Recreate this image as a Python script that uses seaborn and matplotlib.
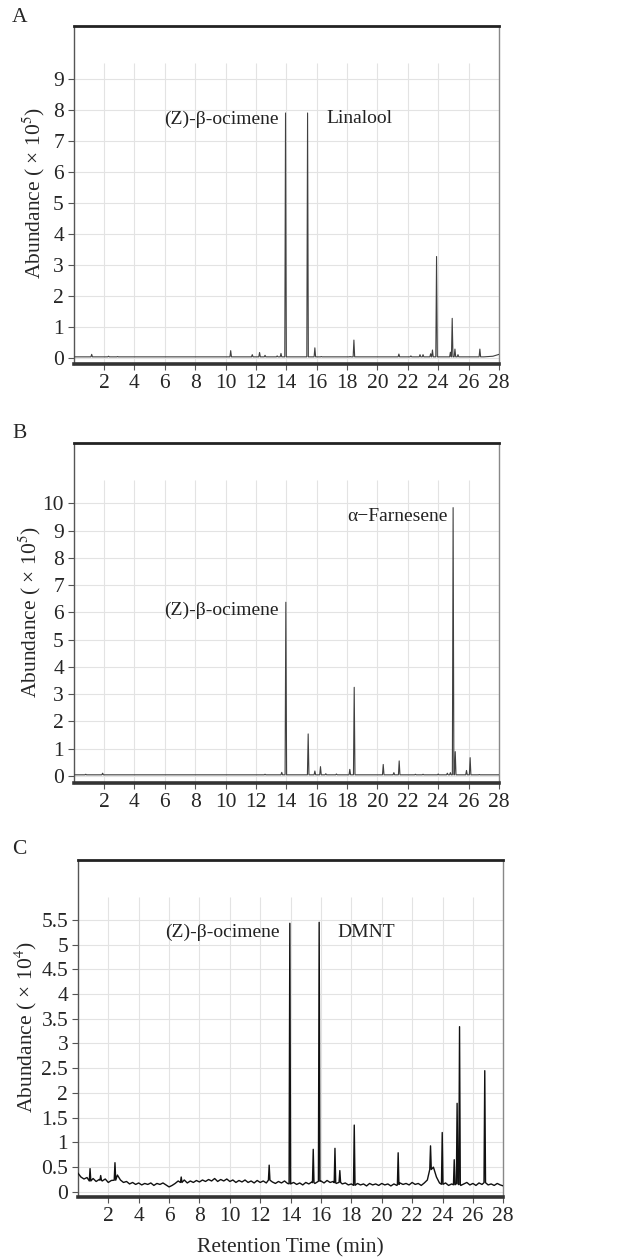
import numpy as np
import pandas as pd
import matplotlib
matplotlib.use("Agg")
import matplotlib.pyplot as plt
import seaborn as sns

# ---------------- data ----------------
# Panel A (x10^5)
a_peak_t = [1.19, 2.3, 2.9, 10.34, 11.76, 12.24, 12.6, 13.4, 13.65, 13.95, 15.40, 15.88, 16.3,
            18.2, 18.45, 21.41, 22.2, 22.8, 23.0, 23.5, 23.62, 23.89, 24.8, 24.92, 25.1, 25.3, 26.74]
a_peak_h = [0.13, 0.07, 0.06, 0.25, 0.12, 0.19, 0.10, 0.08, 0.16, 7.9, 7.9, 0.34, 0.06,
            0.06, 0.59, 0.14, 0.08, 0.12, 0.12, 0.15, 0.27, 3.28, 0.20, 1.29, 0.30, 0.12, 0.30]
a_base_t = [0.0, 5.0, 10.0, 15.0, 20.0, 25.0, 27.0, 27.6, 28.0]
a_base_v = [0.05, 0.05, 0.05, 0.05, 0.05, 0.05, 0.05, 0.07, 0.13]

# Panel B (x10^5)
b_peak_t = [0.8, 1.91, 12.6, 13.7, 13.97, 15.44, 15.88, 16.25, 16.6, 17.3, 18.18, 18.47,
            20.38, 21.08, 21.43, 22.5, 23.0, 24.0, 24.6, 24.8, 24.98, 25.12, 25.86, 26.10, 26.7]
b_peak_h = [0.06, 0.10, 0.06, 0.13, 6.37, 1.54, 0.18, 0.34, 0.08, 0.07, 0.24, 3.25,
            0.42, 0.12, 0.55, 0.06, 0.06, 0.07, 0.10, 0.12, 9.84, 0.89, 0.20, 0.67, 0.05]
b_base_t = [0.0, 7.0, 14.0, 21.0, 28.0]
b_base_v = [0.04, 0.04, 0.04, 0.04, 0.04]

# Panel C (x10^4)
c_peak_t = [0.8, 1.5, 2.44, 6.8, 12.59, 13.95, 15.49, 15.88, 16.92, 17.24, 18.19,
            21.08, 23.21, 23.98, 24.77, 24.96, 25.12, 26.78]
c_peak_h = [0.47, 0.33, 0.59, 0.30, 0.54, 5.43, 0.86, 5.45, 0.88, 0.43, 1.35,
            0.79, 0.93, 1.20, 0.65, 1.79, 3.34, 2.45]
c_base_t = [round(0.2 * i, 1) for i in range(141)]
c_base_v = [0.38, 0.30, 0.26, 0.29, 0.22, 0.27, 0.21, 0.25, 0.22, 0.26,
            0.19, 0.23, 0.21, 0.34, 0.24, 0.19, 0.21, 0.16, 0.19, 0.15,
            0.18, 0.14, 0.17, 0.15, 0.18, 0.13, 0.17, 0.15, 0.18, 0.14,
            0.10, 0.13, 0.17, 0.22, 0.19, 0.24, 0.18, 0.22, 0.19, 0.23,
            0.20, 0.24, 0.21, 0.25, 0.22, 0.27, 0.21, 0.25, 0.22, 0.26,
            0.21, 0.24, 0.19, 0.23, 0.20, 0.24, 0.19, 0.22, 0.18, 0.23,
            0.19, 0.22, 0.18, 0.24, 0.20, 0.17, 0.21, 0.18, 0.22, 0.17,
            0.16, 0.19, 0.15, 0.18, 0.14, 0.19, 0.16, 0.20, 0.17, 0.21,
            0.22, 0.18, 0.23, 0.19, 0.21, 0.17, 0.20, 0.16, 0.18, 0.14,
            0.16, 0.13, 0.17, 0.14, 0.16, 0.12, 0.17, 0.14, 0.16, 0.13,
            0.17, 0.14, 0.16, 0.12, 0.16, 0.13, 0.18, 0.15, 0.17, 0.14,
            0.19, 0.15, 0.17, 0.13, 0.18, 0.24, 0.45, 0.50, 0.30, 0.18,
            0.15, 0.18, 0.13, 0.16, 0.14, 0.17, 0.13, 0.16, 0.19, 0.14,
            0.17, 0.13, 0.18, 0.15, 0.19, 0.14, 0.16, 0.13, 0.17, 0.14,
            0.12]

x_ticks = [2, 4, 6, 8, 10, 12, 14, 16, 18, 20, 22, 24, 26, 28]
a_yticks = list(range(0, 10))
b_yticks = list(range(0, 11))
c_yticks = [0, 0.5, 1, 1.5, 2, 2.5, 3, 3.5, 4, 4.5, 5, 5.5]
c_ylabels = ["0", "0.5", "1", "1.5", "2", "2.5", "3", "3.5", "4", "4.5", "5", "5.5"]


def build_trace(base_t, base_v, pk_t, pk_h, hw):
    bt = np.asarray(base_t, float)
    bv = np.asarray(base_v, float)
    keep = np.ones(len(bt), bool)
    for t in pk_t:
        keep &= np.abs(bt - t) > hw
    ts = list(bt[keep])
    vs = list(bv[keep])
    for t, h in zip(pk_t, pk_h):
        b = float(np.interp(t, bt, bv))
        ts += [t - hw, t, t + hw]
        vs += [b, h, b]
    order = np.argsort(ts, kind="stable")
    return pd.DataFrame({"time": np.asarray(ts)[order], "abund": np.asarray(vs)[order]})


sns.set_style("white")
plt.rcParams["font.family"] = ["Liberation Serif", "DejaVu Serif"]
plt.rcParams["mathtext.fontset"] = "stix"

W, H = 626, 1259
fig = plt.figure(figsize=(W / 100, H / 100), dpi=100)


def px_axes(left, top, right, bottom):
    return fig.add_axes([left / W, 1 - bottom / H, (right - left) / W, (bottom - top) / H])


panels = [
    dict(rect=(73.6, 26, 499, 364), ylim=(-0.18, 10.7), gridtop=9.5,
         df=build_trace(a_base_t, a_base_v, a_peak_t, a_peak_h, 0.05),
         yt=a_yticks, yl=[str(v) for v in a_yticks], color="#404040", lw=0.8,
         ylabel="Abundance ( × 10$^{5}$)", letter="A", letter_y=18,
         ylabel_x=34, ylabel_y=193,
         texts=[(5.95, 7.71, "(Z)-β-ocimene"), (16.67, 7.71, "Linalool")]),
    dict(rect=(73.6, 443.3, 499, 783), ylim=(-0.26, 12.2), gridtop=10.85,
         df=build_trace(b_base_t, b_base_v, b_peak_t, b_peak_h, 0.05),
         yt=b_yticks, yl=[str(v) for v in b_yticks], color="#404040", lw=0.8,
         ylabel="Abundance ( × 10$^{5}$)", letter="B", letter_y=433,
         ylabel_x=30, ylabel_y=612,
         texts=[(5.95, 6.06, "(Z)-β-ocimene"), (17.99, 9.51, "α−Farnesene")]),
    dict(rect=(77.9, 860, 503.3, 1197.3), ylim=(-0.11, 6.71), gridtop=5.97,
         df=build_trace(c_base_t, c_base_v, c_peak_t, c_peak_h, 0.05),
         yt=c_yticks, yl=c_ylabels, color="#111111", lw=1.0,
         ylabel="Abundance ( × 10$^{4}$)", letter="C", letter_y=849,
         ylabel_x=26, ylabel_y=1027,
         texts=[(5.73, 5.24, "(Z)-β-ocimene"), (17.1, 5.24, "DMNT")]),
]

for p in panels:
    ax = px_axes(*p["rect"])
    ax.set_xlim(0, 28)
    ax.set_ylim(*p["ylim"])
    # grid
    for yv in p["yt"]:
        ax.axhline(yv, color="#e3e3e3", lw=0.8, zorder=0)
    ax.vlines([t for t in x_ticks if t < 28], p["ylim"][0], p["gridtop"],
              color="#e3e3e3", lw=0.8, zorder=0)
    sns.lineplot(data=p["df"], x="time", y="abund", ax=ax, estimator=None, sort=False,
                 color=p["color"], lw=p["lw"], zorder=3)
    ax.set_xlabel("")
    ax.set_ylabel("")
    ax.set_xticks(x_ticks)
    ax.set_xticklabels([str(t) for t in x_ticks], fontsize=15.5)
    ax.set_yticks(p["yt"])
    ax.set_yticklabels(p["yl"], fontsize=15.5)
    ax.tick_params(axis="both", direction="out", length=4, width=0.8, color="#555555",
                   left=True, bottom=True, pad=3)
    for s in ["top", "bottom", "left", "right"]:
        ax.spines[s].set_visible(True)
    ax.spines["top"].set_color("#222222")
    ax.spines["top"].set_linewidth(2.0)
    ax.spines["bottom"].set_color("#333333")
    ax.spines["bottom"].set_linewidth(2.6)
    ax.spines["left"].set_color("#555555")
    ax.spines["left"].set_linewidth(1.0)
    ax.spines["right"].set_color("#888888")
    ax.spines["right"].set_linewidth(1.0)
    for (tx, ty, s) in p["texts"]:
        ax.text(tx, ty, s, fontsize=14, ha="left", va="center", color="#222222", zorder=4)
    fig.text(p["ylabel_x"] / W, 1 - p["ylabel_y"] / H, p["ylabel"], rotation=90,
             fontsize=15.5, ha="center", va="center")
    fig.text(12 / W, 1 - p["letter_y"] / H, p["letter"], fontsize=15.5, ha="left", va="center")

fig.text(290 / W, 1 - 1248 / H, "Retention Time (min)", fontsize=15.5, ha="center", va="center")

fig.savefig("out.png", dpi=100)
